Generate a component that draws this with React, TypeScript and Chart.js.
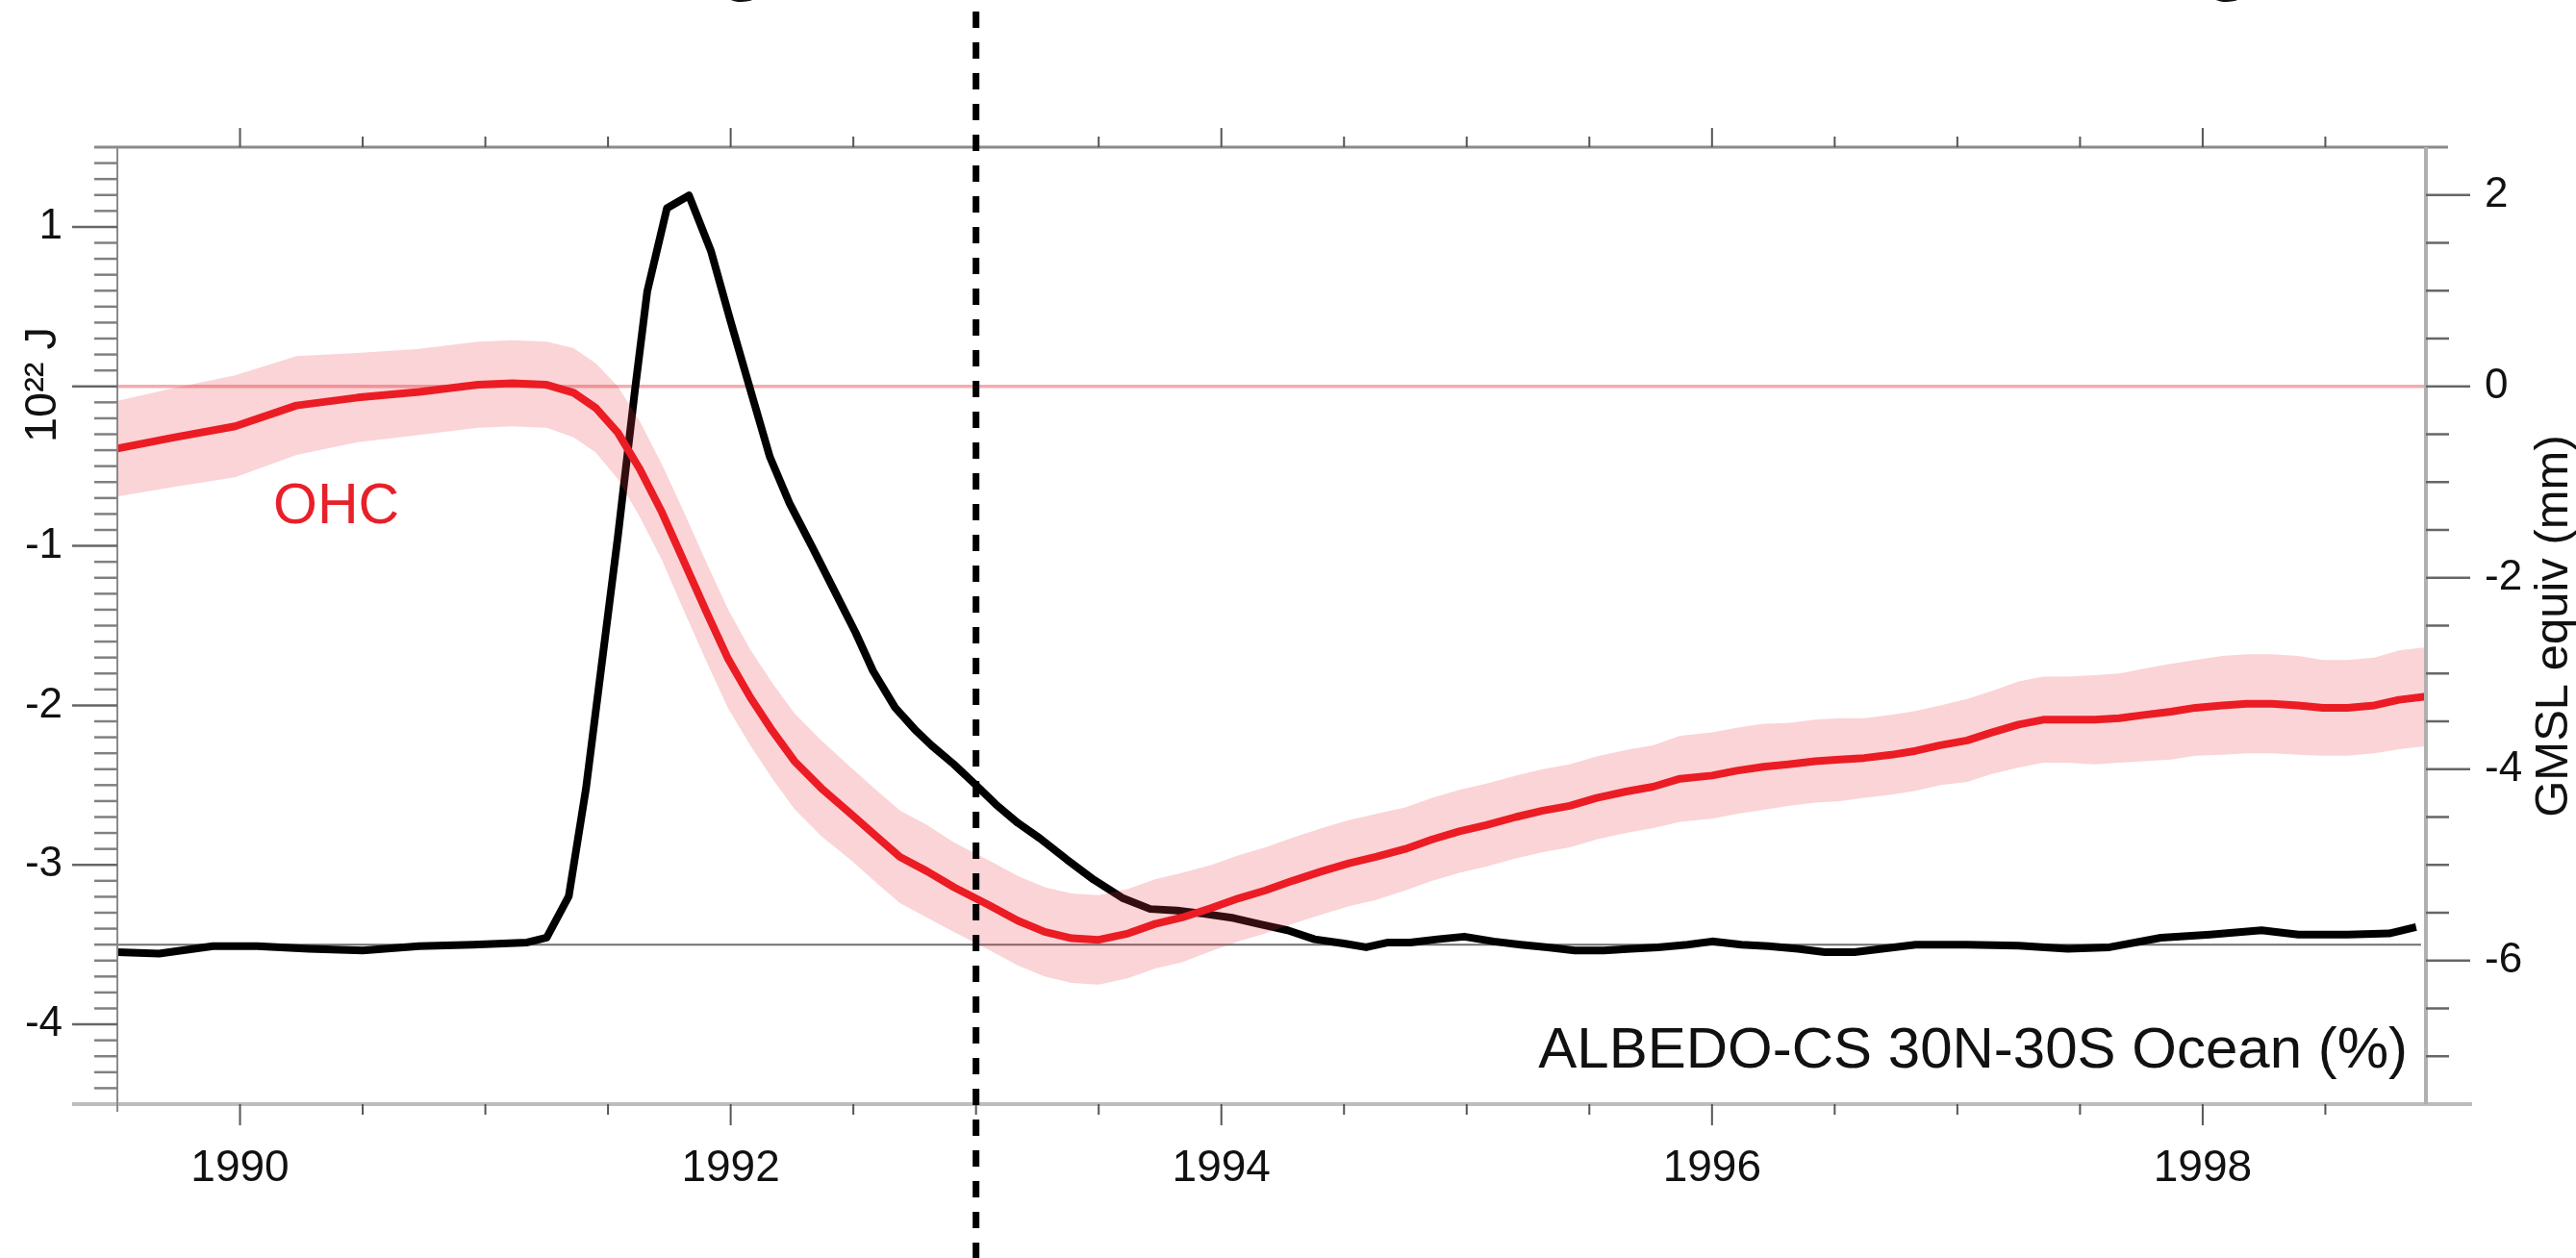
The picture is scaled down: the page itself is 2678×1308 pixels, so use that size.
import React, { useEffect, useRef } from "react";
import { Chart, registerables } from "chart.js";

Chart.register(...registerables);

const FONT = '"Liberation Sans", Arial, Helvetica, sans-serif';
const W = 2678;
const H = 1308;

// ---- Data ----
const ohcYears = [
  1989.5, 1989.73, 1989.98, 1990.23, 1990.48, 1990.73, 1990.97, 1991.11, 1991.25, 1991.36,
  1991.45, 1991.54, 1991.63, 1991.72, 1991.81, 1991.9, 1991.99, 1992.08, 1992.17, 1992.26,
  1992.37, 1992.49, 1992.6, 1992.69, 1992.8, 1992.91, 1993.05, 1993.17, 1993.28, 1993.39,
  1993.5, 1993.62, 1993.73, 1993.84, 1993.96, 1994.07, 1994.18, 1994.29, 1994.41, 1994.52,
  1994.63, 1994.75, 1994.86, 1994.97, 1995.08, 1995.2, 1995.31, 1995.42, 1995.53, 1995.65,
  1995.76, 1995.87, 1996.0, 1996.1, 1996.21, 1996.31, 1996.42, 1996.52, 1996.62, 1996.73,
  1996.83, 1996.93, 1997.04, 1997.14, 1997.25, 1997.35, 1997.45, 1997.56, 1997.66, 1997.76,
  1997.87, 1997.97, 1998.08, 1998.18, 1998.28, 1998.39, 1998.49, 1998.59, 1998.7, 1998.8,
  1998.91,
];
const ohcValues = [
  -0.39, -0.32, -0.25, -0.12, -0.07, -0.035, 0.01, 0.02, 0.01, -0.04,
  -0.135, -0.29, -0.52, -0.79, -1.1, -1.41, -1.71, -1.95, -2.16, -2.35,
  -2.52, -2.68, -2.83, -2.95, -3.04, -3.14, -3.25, -3.35, -3.42, -3.46,
  -3.47, -3.43, -3.37, -3.33, -3.27, -3.21, -3.16, -3.1, -3.04, -2.99,
  -2.95, -2.9, -2.84, -2.79, -2.75, -2.7, -2.66, -2.63, -2.58, -2.54,
  -2.51, -2.46, -2.44, -2.41, -2.385, -2.37, -2.35, -2.34, -2.33, -2.31,
  -2.285, -2.25, -2.22, -2.17, -2.12, -2.09, -2.09, -2.09, -2.08, -2.06,
  -2.04, -2.015, -2.0, -1.99, -1.99, -2.0, -2.015, -2.015, -2.0, -1.965,
  -1.945,
];
const ohcUncertainty = [
  0.3, 0.31, 0.32, 0.31, 0.28, 0.27, 0.27, 0.27, 0.27, 0.28,
  0.28, 0.29, 0.3, 0.3, 0.31, 0.31, 0.31, 0.3, 0.3, 0.3,
  0.3, 0.29, 0.29, 0.29, 0.29, 0.28, 0.28, 0.28, 0.28, 0.28,
  0.28, 0.28, 0.28, 0.28, 0.27, 0.27, 0.27, 0.27, 0.27, 0.27,
  0.27, 0.26, 0.26, 0.26, 0.26, 0.26, 0.26, 0.26, 0.26, 0.26,
  0.26, 0.27, 0.27, 0.27, 0.27, 0.26, 0.26, 0.26, 0.25, 0.25,
  0.25, 0.25, 0.26, 0.26, 0.27, 0.27, 0.27, 0.28, 0.28, 0.29,
  0.3, 0.3, 0.31, 0.31, 0.31, 0.31, 0.3, 0.3, 0.3, 0.31,
  0.31,
];

// ALBEDO-CS 30N-30S Ocean anomaly (%)
const albedoYears = [
  1989.5, 1989.67, 1989.89, 1990.07, 1990.28, 1990.5, 1990.73, 1990.95, 1991.17, 1991.25,
  1991.34, 1991.41, 1991.47, 1991.54, 1991.61, 1991.66, 1991.74, 1991.83, 1991.92, 1992.0,
  1992.08, 1992.16, 1992.24, 1992.33, 1992.42, 1992.51, 1992.58, 1992.67, 1992.75, 1992.82,
  1992.91, 1993.0, 1993.08, 1993.17, 1993.26, 1993.37, 1993.48, 1993.6, 1993.71, 1993.82,
  1993.93, 1994.05, 1994.16, 1994.27, 1994.38, 1994.5, 1994.59, 1994.68, 1994.77, 1994.88,
  1994.99, 1995.11, 1995.22, 1995.33, 1995.44, 1995.56, 1995.67, 1995.78, 1995.9, 1996.0,
  1996.12, 1996.23, 1996.35, 1996.46, 1996.58, 1996.83, 1997.04, 1997.25, 1997.45, 1997.62,
  1997.83, 1998.03, 1998.24, 1998.39, 1998.59, 1998.76, 1998.87,
];
const albedoValues = [
  -0.014, -0.017, -0.003, -0.003, -0.008, -0.011, -0.003, 0.0, 0.004, 0.013,
  0.091, 0.293, 0.512, 0.767, 1.044, 1.229, 1.385, 1.409, 1.304, 1.172,
  1.044, 0.917, 0.83, 0.75, 0.668, 0.586, 0.515, 0.446, 0.405, 0.374,
  0.339, 0.3, 0.264, 0.229, 0.2, 0.16, 0.122, 0.087, 0.067, 0.064,
  0.058, 0.05, 0.038, 0.027, 0.01, 0.002, -0.005, 0.004, 0.004, 0.01,
  0.015, 0.006, 0.0, -0.005, -0.011, -0.011, -0.008, -0.005, 0.0, 0.006,
  0.0, -0.003, -0.008, -0.014, -0.014, 0.0, 0.0, -0.002, -0.008, -0.005,
  0.013, 0.019, 0.027, 0.019, 0.019, 0.021, 0.033,
];

const yearTicks = [1990, 1992, 1994, 1996, 1998];
const ohcTicks = [1, 0, -1, -2, -3, -4];
const gmslTicks = [2, 0, -2, -4, -6];
const xMin = 1989.5;
const xMax = 1998.91;
const markerYear = 1993.0;

const leftTitle = "10\u00B2\u00B2 J";
const rightTitle = "GMSL equiv (mm)";
const seriesLabel = "OHC";
const panelLabel = "ALBEDO-CS 30N-30S Ocean (%)";

const decorPlugin = {
  id: "decor",
  afterDraw(chart: any) {
    const { ctx, chartArea, scales } = chart;
    const { left, right, top, bottom } = chartArea;
    const xs = scales.x;
    const yL = scales.y;
    const yR = scales.yR;
    const line = (x1: number, y1: number, x2: number, y2: number, color: string, w: number) => {
      ctx.strokeStyle = color;
      ctx.lineWidth = w;
      ctx.beginPath();
      ctx.moveTo(x1, y1);
      ctx.lineTo(x2, y2);
      ctx.stroke();
    };
    ctx.save();
    ctx.setLineDash([]);
    ctx.lineCap = "butt";

    // axis lines
    line(98, top, 2545, top, "#8a8a8a", 3);
    line(75, bottom, 2570, bottom, "#bdbdbd", 4);
    line(left, top, left, bottom + 8, "#8a8a8a", 2);
    line(right, top, right, bottom, "#b0b0b0", 4);

    // x ticks (top and bottom): major every 2 yr, minor every 0.5 yr
    for (let k = 1; xMin + k * 0.5 < xMax; k++) {
      const v = xMin + k * 0.5;
      const px = xs.getPixelForValue(v);
      const major = Math.abs(v % 2) < 1e-6;
      line(px, top, px, top - (major ? 20 : 11), "#555", 2);
      line(px, bottom, px, bottom + (major ? 22 : 11), "#555", 2);
    }
    // left ticks: major every 1, minor every 0.1
    for (let k = -44; k <= 14; k++) {
      const py = yL.getPixelForValue(k / 10);
      const major = k % 10 === 0;
      line(major ? 75 : 98, py, left, py, major ? "#666" : "#808080", 2.5);
    }
    // right ticks: major every 2 mm, minor every 0.5 mm
    for (let k = -14; k <= 4; k++) {
      const v = k * 0.5;
      const py = yR.getPixelForValue(v);
      const major = Math.abs(v % 2) < 1e-6;
      line(right, py, right + (major ? 46 : 24), py, "#666", 2.5);
    }

    // texts
    ctx.fillStyle = "#e8202a";
    ctx.font = `59px ${FONT}`;
    ctx.textAlign = "left";
    ctx.textBaseline = "alphabetic";
    ctx.fillText(seriesLabel, 284, 544);

    ctx.fillStyle = "#111";
    ctx.font = `60px ${FONT}`;
    ctx.textAlign = "right";
    ctx.fillText(panelLabel, 2503, 1110);

    ctx.save();
    ctx.translate(58, 400);
    ctx.rotate(-Math.PI / 2);
    ctx.font = `47px ${FONT}`;
    ctx.textAlign = "center";
    ctx.fillText(leftTitle, 0, 0);
    ctx.restore();

    ctx.save();
    ctx.translate(2669, 651);
    ctx.rotate(-Math.PI / 2);
    ctx.font = `49px ${FONT}`;
    ctx.textAlign = "center";
    ctx.fillText(rightTitle, 0, 0);
    ctx.restore();

    // cut-off glyphs from the panel title above
    ctx.font = `bold 86px ${FONT}`;
    ctx.textAlign = "left";
    ctx.fillText("g", 746, -16);
    ctx.fillText("g", 2290, -16);

    // dashed vertical marker across the whole figure
    const mx = xs.getPixelForValue(markerYear);
    ctx.setLineDash([17, 15]);
    line(mx, -20, mx, H + 10, "#000", 7);
    ctx.restore();
  },
};

export default function App() {
  const ref = useRef<HTMLCanvasElement>(null);
  useEffect(() => {
    const canvas = ref.current;
    if (!canvas) return;
    Chart.defaults.font.family = FONT;
    const pts = (xs: number[], ys: number[]) => xs.map((x, i) => ({ x, y: ys[i] }));
    const bandUpper = ohcYears.map((x, i) => ({ x, y: ohcValues[i] + ohcUncertainty[i] }));
    const bandLower = ohcYears.map((x, i) => ({ x, y: ohcValues[i] - ohcUncertainty[i] }));
    const clear = "rgba(0,0,0,0)";
    const chart = new Chart(canvas, {
      type: "line",
      data: {
        datasets: [
          {
            label: "OHC",
            data: pts(ohcYears, ohcValues),
            yAxisID: "y",
            borderColor: "#eb1c24",
            borderWidth: 8,
            pointRadius: 0,
            fill: false,
            order: 0,
            borderJoinStyle: "round",
          },
          {
            label: "OHC upper",
            data: bandUpper,
            yAxisID: "y",
            borderColor: clear,
            borderWidth: 1,
            pointRadius: 0,
            backgroundColor: "rgba(230,60,70,0.22)",
            fill: 2,
            order: 1,
          },
          {
            label: "OHC lower",
            data: bandLower,
            yAxisID: "y",
            borderColor: clear,
            borderWidth: 1,
            pointRadius: 0,
            fill: false,
            order: 2,
          },
          {
            label: "ALBEDO",
            data: pts(albedoYears, albedoValues),
            yAxisID: "yA",
            borderColor: "#000",
            borderWidth: 8,
            pointRadius: 0,
            fill: false,
            order: 3,
            borderJoinStyle: "round",
          },
          {
            label: "albedo zero",
            data: [
              { x: xMin, y: 0 },
              { x: albedoYears[albedoYears.length - 1] + 0.02, y: 0 },
            ],
            yAxisID: "yA",
            borderColor: "#6e6e6e",
            borderWidth: 2,
            pointRadius: 0,
            fill: false,
            order: 4,
          },
          {
            label: "OHC zero",
            data: [
              { x: xMin, y: 0 },
              { x: xMax, y: 0 },
            ],
            yAxisID: "y",
            borderColor: "#f4abb1",
            borderWidth: 3.5,
            pointRadius: 0,
            fill: false,
            order: 5,
          },
        ],
      },
      options: {
        responsive: false,
        animation: false,
        devicePixelRatio: 1,
        layout: { padding: { top: 153, left: 0, right: 0, bottom: 0 } },
        elements: { line: { tension: 0 }, point: { radius: 0 } },
        plugins: { legend: { display: false }, tooltip: { enabled: false } },
        scales: {
          x: {
            type: "linear",
            position: "bottom",
            min: xMin,
            max: xMax,
            grid: { display: false, drawTicks: false },
            border: { display: false },
            ticks: {
              font: { size: 46 },
              color: "#111",
              padding: 40,
              autoSkip: false,
              maxRotation: 0,
              callback: (v: any) => String(v),
            },
            afterBuildTicks: (s: any) => {
              s.ticks = yearTicks.map((v) => ({ value: v }));
            },
            afterFit: (s: any) => {
              s.height = 160;
            },
          },
          y: {
            type: "linear",
            position: "left",
            min: -4.5,
            max: 1.5,
            grid: { display: false, drawTicks: false },
            border: { display: false },
            ticks: {
              font: { size: 44 },
              color: "#111",
              padding: 57,
              autoSkip: false,
              callback: (v: any) => (v === 0 ? "" : String(v)),
            },
            afterBuildTicks: (s: any) => {
              s.ticks = ohcTicks.map((v) => ({ value: v }));
            },
            afterFit: (s: any) => {
              s.width = 122;
            },
          },
          yR: {
            type: "linear",
            position: "right",
            min: -7.5,
            max: 2.5,
            grid: { display: false, drawTicks: false },
            border: { display: false },
            ticks: {
              font: { size: 44 },
              color: "#111",
              padding: 61,
              autoSkip: false,
              callback: (v: any) => String(v),
            },
            afterBuildTicks: (s: any) => {
              s.ticks = gmslTicks.map((v) => ({ value: v }));
            },
            afterFit: (s: any) => {
              s.width = 156;
            },
          },
          yA: {
            type: "linear",
            display: false,
            min: -0.3,
            max: 1.5,
          },
        },
      },
      plugins: [decorPlugin],
    } as any);
    return () => chart.destroy();
  }, []);

  return (
    <div style={{ position: "fixed", left: 0, top: 0, width: W, height: H, background: "#fff" }}>
      <canvas ref={ref} width={W} height={H} style={{ display: "block", width: W, height: H }} />
    </div>
  );
}
